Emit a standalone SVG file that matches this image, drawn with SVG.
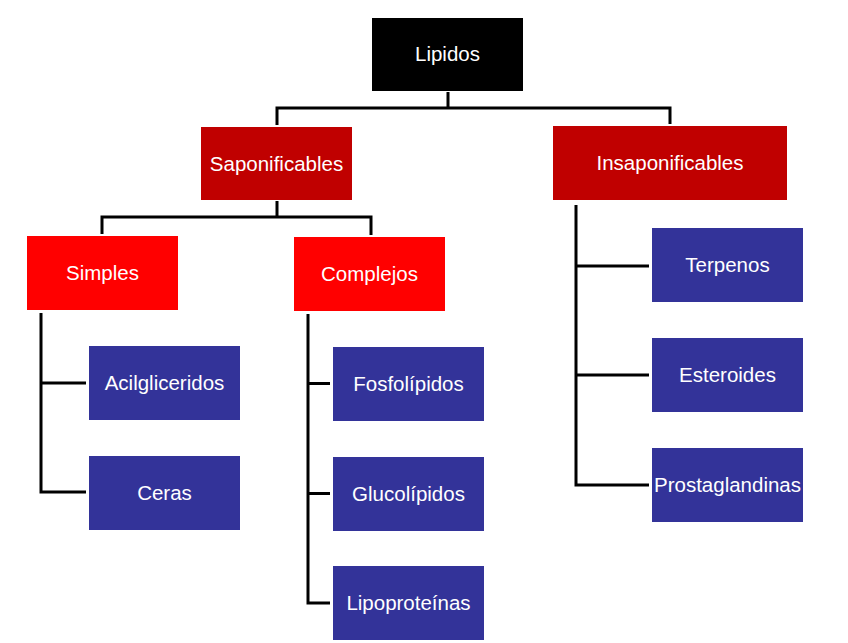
<svg xmlns="http://www.w3.org/2000/svg" width="848" height="643" viewBox="0 0 848 643">
<style>
.t{font-family:"Liberation Sans",Arial,sans-serif;font-size:20.5px;fill:#ffffff;text-anchor:middle}
.k{fill:#000000}
.d{fill:#C00000}
.r{fill:#FF0000}
.b{fill:#333399}
.c{fill:none;stroke:#000000;stroke-width:3}
</style>
<rect width="848" height="643" fill="#ffffff"/>
<g id="connectors">
<path class="c" d="M448,92 V108 M277,108 H670 M277,106.5 V125 M670,106.5 V124"/>
<path class="c" d="M277,201 V217 M102,217 H371 M102,215.5 V234 M371,215.5 V235"/>
<path class="c" d="M41,313 V492 M39.5,383 H86 M39.5,492 H86"/>
<path class="c" d="M308,314 V603 M306.5,383.5 H330 M306.5,493.5 H330 M306.5,603 H330"/>
<path class="c" d="M576,205 V485 M574.5,266 H649 M574.5,375 H649 M574.5,485 H649"/>
</g>
<g id="lipidos"><rect class="k" x="372" y="18" width="151" height="73"/><text class="t" x="447.5" y="61">Lipidos</text></g>
<g id="saponificables"><rect class="d" x="201" y="127" width="151" height="73"/><text class="t" x="276.5" y="171">Saponificables</text></g>
<g id="insaponificables"><rect class="d" x="553" y="126" width="234" height="74"/><text class="t" x="670" y="170">Insaponificables</text></g>
<g id="simples"><rect class="r" x="27" y="236" width="151" height="74"/><text class="t" x="102.5" y="280">Simples</text></g>
<g id="complejos"><rect class="r" x="294" y="237" width="151" height="74"/><text class="t" x="369.5" y="281">Complejos</text></g>
<g id="acilgliceridos"><rect class="b" x="89" y="346" width="151" height="74"/><text class="t" x="164.5" y="390">Acilgliceridos</text></g>
<g id="ceras"><rect class="b" x="89" y="456" width="151" height="74"/><text class="t" x="164.5" y="500">Ceras</text></g>
<g id="fosfolipidos"><rect class="b" x="333" y="347" width="151" height="74"/><text class="t" x="408.5" y="391">Fosfolípidos</text></g>
<g id="glucolipidos"><rect class="b" x="333" y="457" width="151" height="74"/><text class="t" x="408.5" y="501">Glucolípidos</text></g>
<g id="lipoproteinas"><rect class="b" x="333" y="566" width="151" height="74"/><text class="t" x="408.5" y="610">Lipoproteínas</text></g>
<g id="terpenos"><rect class="b" x="652" y="228" width="151" height="74"/><text class="t" x="727.5" y="272">Terpenos</text></g>
<g id="esteroides"><rect class="b" x="652" y="338" width="151" height="74"/><text class="t" x="727.5" y="382">Esteroides</text></g>
<g id="prostaglandinas"><rect class="b" x="652" y="448" width="151" height="74"/><text class="t" x="727.5" y="492">Prostaglandinas</text></g>
</svg>
